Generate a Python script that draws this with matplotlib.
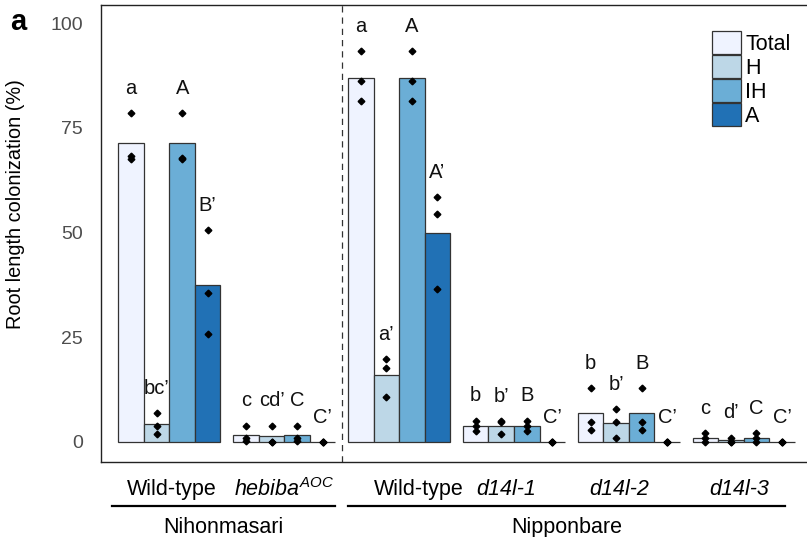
import numpy as np
import matplotlib
matplotlib.use("Agg")
import matplotlib.pyplot as plt
from matplotlib.patches import Patch
from matplotlib.transforms import blended_transform_factory

plt.rcParams['font.family'] = ['Liberation Sans', 'DejaVu Sans']
plt.rcParams['mathtext.fontset'] = 'custom'
plt.rcParams['mathtext.rm'] = 'Liberation Sans'
plt.rcParams['mathtext.it'] = 'Liberation Sans:italic'

# measurements: three replicates per genotype and colonization type
genotypes = ["Wild-type", r"$\mathit{hebiba}^{\mathit{AOC}}$", "Wild-type",
             "d14l-1", "d14l-2", "d14l-3"]
italic = [False, False, False, True, True, True]
categories = ["Total", "H", "IH", "A"]
colors = ["#eff3ff", "#bdd7e7", "#6baed6", "#2171b5"]

total = [[78.4, 68.3, 67.6], [3.9, 1.0, 0.2], [93.2, 86.2, 81.3],
         [5.1, 3.9, 2.7], [12.8, 4.8, 2.9], [2.1, 0.9, 0.0]]
hyphae = [[6.8, 3.9, 1.9], [3.9, 0.0, 0.0], [19.7, 17.7, 10.8],
          [4.8, 4.9, 1.9], [7.8, 4.8, 0.9], [1.0, 0.0, 0.0]]
intraradical = [[78.4, 67.8, 67.6], [3.9, 1.0, 0.2], [93.2, 86.2, 81.3],
                [5.1, 3.9, 2.7], [12.8, 4.8, 2.9], [2.1, 0.9, 0.0]]
arbuscules = [[50.6, 35.6, 25.8], [0.0, 0.0, 0.0], [58.5, 54.5, 36.6],
              [0.0, 0.0, 0.0], [0.0, 0.0, 0.0], [0.0, 0.0, 0.0]]
series = [total, hyphae, intraradical, arbuscules]

letters = [["a", "bc’", "A", "B’"],
           ["c", "cd’", "C", "C’"],
           ["a", "a’", "A", "A’"],
           ["b", "b’", "B", "C’"],
           ["b", "b’", "B", "C’"],
           ["c", "d’", "C", "C’"]]

backgrounds = ["Nihonmasari", "Nipponbare"]
background_span = [(-0.25, 8.5), (9.0, 26.1)]
label_shift = [0.1, 0.0, 0.77, -0.29, -0.38, -0.18]

group_step = 4.5

fig = plt.figure(figsize=(8.07, 5.37), dpi=100)
ax = fig.add_axes([0.1252, 0.1397, 0.8748, 0.851])

for g in range(len(genotypes)):
    for k, (name, col) in enumerate(zip(categories, colors)):
        reps = np.array(series[k][g])
        x0 = g * group_step + k
        ax.bar(x0, reps.mean(), width=1, align='edge', color=col,
               edgecolor='#333333', linewidth=0.9, zorder=2)
        ax.plot(np.full(len(reps), x0 + 0.5), reps, 'D', color='black',
                markersize=3.4, zorder=3)
        ax.text(x0 + 0.5, reps.max() + 4.6, letters[g][k], ha='center',
                va='baseline', fontsize=14.5, color='#111111')

ax.axvline(8.75, color='#333333', linestyle=(0, (5, 4)), linewidth=0.9)

ax.set_xlim(-0.68, 26.98)
ax.set_ylim(-4.8, 104.3)
ax.set_yticks([0, 25, 50, 75, 100])
ax.set_xticks([])
ax.tick_params(axis='y', length=0, pad=13, labelsize=14, labelcolor='#4d4d4d')
ax.spines['right'].set_visible(False)
for s in ['left', 'top', 'bottom']:
    ax.spines[s].set_linewidth(1.0)
    ax.spines[s].set_color('#222222')

ax.set_ylabel("Root length colonization (%)", fontsize=14.3)
ax.yaxis.set_label_coords(-0.1076, (462 - 204) / 457)

# genotype labels under the groups, then the background lines and names
trans = blended_transform_factory(ax.transData, ax.transAxes)
for g, name in enumerate(genotypes):
    xc = g * group_step + 2 + label_shift[g]
    ax.text(xc, -0.0613, name, transform=trans, ha='center', va='center',
            fontsize=15.5, style='italic' if italic[g] else 'normal')
for name, (a, b) in zip(backgrounds, background_span):
    ax.plot([a, b], [-0.0963, -0.0963], transform=trans, color='black',
            linewidth=1.6, clip_on=False)
    ax.text((a + b) / 2, -0.1444, name, transform=trans, ha='center',
            va='center', fontsize=15.5)

handles = [Patch(facecolor=c, edgecolor='#333333', linewidth=0.9) for c in colors]
ax.legend(handles, categories, loc='upper left',
          bbox_to_anchor=(712.3 / 807, 1 - 31 / 537), bbox_transform=fig.transFigure,
          frameon=False, fontsize=15.5, handlelength=1.33, handleheight=1.3,
          labelspacing=0, handletextpad=0.2, borderpad=0, borderaxespad=0)

fig.text(10 / 807, 1 - 22 / 537, "a", fontsize=21, fontweight='bold',
         va='center', ha='left')

fig.savefig("out.png", dpi=100)
